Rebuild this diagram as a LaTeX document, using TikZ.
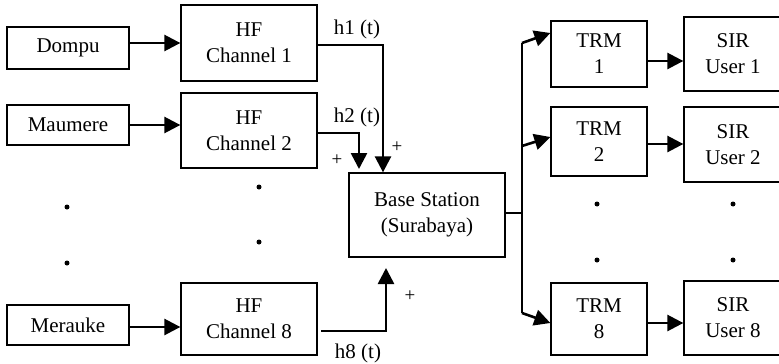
\documentclass[tikz,border=0pt]{standalone}
\usepackage{fontspec}
\setmainfont{Liberation Serif}
\usetikzlibrary{arrows.meta}
\begin{document}
\begin{tikzpicture}[x=1pt,y=-1pt,
  box/.style={draw,line width=1.3pt,rectangle,align=center,inner sep=0pt,
    font=\fontsize{21}{26}\selectfont},
  arr/.style={line width=2.6pt,-{Triangle[length=16pt,width=16pt]}},
  lbl/.style={font=\fontsize{21}{26}\selectfont,inner sep=0pt},
  plus/.style={font=\fontsize{19}{20}\selectfont,inner sep=0pt},
  dotn/.style={circle,fill,inner sep=0pt,minimum size=5pt}]
\useasboundingbox (0,0) rectangle (779,364);
\clip (0,0) rectangle (779,364);
% left sources
\node[box,minimum width=122pt,minimum height=42pt] (dompu) at (68,48) {Dompu};
\node[box,minimum width=122pt,minimum height=40pt] (maumere) at (68,125) {Maumere};
\node[box,minimum width=122pt,minimum height=40pt] (merauke) at (68,325) {Merauke};
% HF channels
\node[box,minimum width=136pt,minimum height=76pt] (hf1) at (249,43) {HF\\Channel 1};
\node[box,minimum width=136pt,minimum height=75pt] (hf2) at (249,130.5) {HF\\Channel 2};
\node[box,minimum width=136pt,minimum height=72pt] (hf8) at (249,319) {HF\\Channel 8};
% base station
\node[box,minimum width=156pt,minimum height=84pt] (bs) at (427,215) {Base Station\\(Surabaya)};
% TRM
\node[box,minimum width=96pt,minimum height=66pt] (trm1) at (599,54) {TRM\\1};
\node[box,minimum width=96pt,minimum height=69pt] (trm2) at (599,141.5) {TRM\\2};
\node[box,minimum width=96pt,minimum height=72pt] (trm8) at (599,319) {TRM\\8};
% SIR
\node[box,minimum width=98pt,minimum height=74pt] (sir1) at (733,54) {SIR\\User 1};
\node[box,minimum width=98pt,minimum height=75pt] (sir2) at (733,144.5) {SIR\\User 2};
\node[box,minimum width=98pt,minimum height=74pt] (sir8) at (733,318) {SIR\\User 8};
% arrow levels
\coordinate (y8) at (0,327);
\coordinate (t1) at (0,61);
\coordinate (t2) at (0,144);
\coordinate (t8) at (0,323);
% source -> channel arrows
\draw[arr] (dompu.east |- hf1) -- (hf1.west);
\draw[arr] (maumere.east) -- (hf2.west |- maumere);
\draw[arr] (merauke.east |- y8) -- (hf8.west |- y8);
% channel -> base station
\coordinate (h1c) at (383,45);
\coordinate (h2c) at (359,133);
\coordinate (h2e) at (359,169);
\coordinate (h8c) at (386,331);
\coordinate (h8e) at (386,268);
\coordinate (h8s) at (321,331);
\draw[arr] (hf1.east |- h1c) -- (h1c) -- (h1c |- bs.north);
\draw[arr] (hf2.east |- h2c) -- (h2c) -- (h2e);
\draw[arr] (h8s) -- (h8c) -- (h8e);
\node[lbl] (l1) at (357,29) {h1 (t)};
\node[lbl] (l2) at (357,117) {h2 (t)};
\node[lbl] (l8) at (358,353) {h8 (t)};
\node[plus] (p1) at (397,147) {+};
\node[plus] (p2) at (337,160) {+};
\node[plus] (p8) at (410,296) {+};
% base station -> TRMs
\coordinate (split) at (522,213);
\coordinate (s1) at (522,43);
\coordinate (s2) at (522,146);
\coordinate (s8) at (522,313);
\coordinate (e1) at (0,33);
\coordinate (e2) at (0,137);
\draw[line width=1.3pt] (bs.east |- split) -- (split);
\draw[line width=1.3pt] (s1) -- (s8);
\draw[arr] (s1) -- (trm1.west |- e1);
\draw[arr] (s2) -- (trm2.west |- e2);
\draw[arr] (s8) -- (trm8.west |- t8);
% TRM -> SIR
\draw[arr] (trm1.east |- t1) -- (sir1.west |- t1);
\draw[arr] (trm2.east |- t2) -- (sir2.west |- t2);
\draw[arr] (trm8.east |- t8) -- (sir8.west |- t8);
% dots
\node[dotn] (d1) at (67,207) {};
\node[dotn] (d2) at (67,263) {};
\node[dotn] (d3) at (259,187) {};
\node[dotn] (d4) at (259,242) {};
\node[dotn] (d5) at (597,204) {};
\node[dotn] (d6) at (597,260) {};
\node[dotn] (d7) at (733,204) {};
\node[dotn] (d8) at (733,260) {};
\end{tikzpicture}
\end{document}
